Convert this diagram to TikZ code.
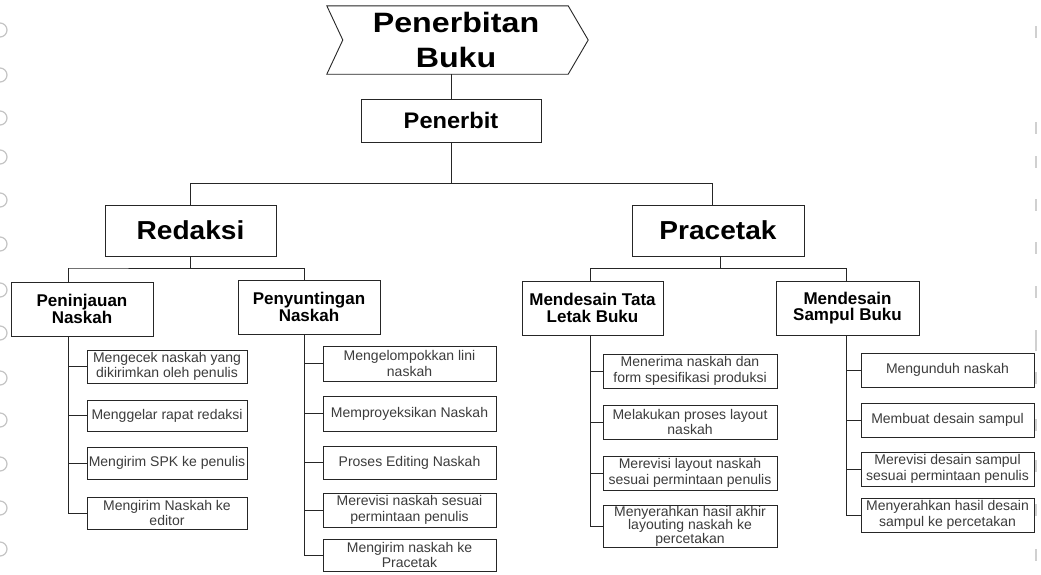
\documentclass[tikz,border=0pt]{standalone}
\usepackage{fontspec}
\setmainfont{Liberation Sans}
\newfontfamily\topbold[FakeStretch=1.15]{Liberation Sans Bold}
\newfontfamily\bigbold[FakeStretch=1.08]{Liberation Sans Bold}
\newfontfamily\midbold[FakeStretch=1.05]{Liberation Sans Bold}
\newfontfamily\subbold{Liberation Sans Bold}
\usetikzlibrary{calc}
\definecolor{linec}{HTML}{262626}
\definecolor{leaftext}{HTML}{3C3C3C}
\definecolor{scan}{HTML}{C4C4C4}
\tikzset{
  lbl/.style={draw=linec, line width=0.9pt, fill=white, inner sep=0pt, align=center},
  titlebox/.style={inner sep=0pt, align=center, font={\topbold\fontsize{28}{35}\selectfont}},
  rootbox/.style={lbl, font={\midbold\fontsize{22.5}{26}\selectfont}},
  headbox/.style={lbl, font={\bigbold\fontsize{26}{30}\selectfont}},
  subbox/.style={lbl, text=black, font={\subbold\fontsize{17}{16.5}\selectfont}},
  leafbox/.style={lbl, text=leaftext, font={\fontsize{14}{15.5}\selectfont}},
  conn/.style={draw=linec, line width=0.9pt},
  hole/.style={draw=scan, line width=1.2pt},
  scanmark/.style={draw=scan!80, line width=1.5pt},
}
\begin{document}
\begin{tikzpicture}[x=1pt,y=-1pt]
\useasboundingbox[fill=white] (0,0) rectangle (1041,574);
\begin{scope}
\clip (0,0) rectangle (1041,574);
% binder marks of the scanned page
\foreach \y in {30,75,118,157,200,244,290,333,378,420,464,508,549}
  \draw[hole] (0,\y) circle[radius=7];
\foreach \y in {32,128,162,205,248,292,336,345,378,425,466,510,555}
  \draw[scanmark] (1036,\y-6) -- (1036,\y+6);
\end{scope}

% title chevron
\node[inner sep=0pt, minimum width=241, minimum height=68] (top) at (447.5,40) {};
\draw[conn, fill=white] (top.north west) -- (top.north east) -- ($(top.east)+(20,0)$) -- (top.south east)
  -- (top.south west) -- ($(top.west)+(16,0)$) -- cycle;
\node[titlebox] (title) at (456,40) {Penerbitan\\Buku};

% root and heads
\node[rootbox, minimum width=180, minimum height=43] (penerbit) at (451,120.5) {Penerbit};
\node[headbox, minimum width=171, minimum height=51] (redaksi) at (190.5,230.5) {Redaksi};
\node[headbox, minimum width=172, minimum height=51] (pracetak) at (718,230.5) {Pracetak};

% sub heads
\node[subbox, minimum width=142, minimum height=54] (tinjau) at (82,309) {Peninjauan\\Naskah};
\node[subbox, minimum width=142, minimum height=54] (sunting) at (309,307) {Penyuntingan\\Naskah};
\node[subbox, minimum width=141, minimum height=54] (tata) at (592.5,308) {Mendesain Tata\\Letak Buku};
\node[subbox, minimum width=143, minimum height=54] (sampul) at (847.5,308) {Mendesain\\Sampul Buku};

% column coordinates of the connector trunks
\coordinate (kA) at (68,268);
\coordinate (kB) at (304,268);
\coordinate (kC) at (590,268);
\coordinate (kD) at (846,268);
\coordinate (kR) at (712,183);

% leaves: Peninjauan
\node[leafbox, minimum width=160, minimum height=33] (a1) at (167,366.5) {Mengecek naskah yang\\dikirimkan oleh penulis};
\node[leafbox, minimum width=160, minimum height=31] (a2) at (167,415.5) {Menggelar rapat redaksi};
\node[leafbox, minimum width=160, minimum height=32] (a3) at (167,463) {Mengirim SPK ke penulis};
\node[leafbox, minimum width=160, minimum height=32] (a4) at (167,513) {Mengirim Naskah ke\\editor};

% leaves: Penyuntingan
\node[leafbox, minimum width=173, minimum height=35] (b1) at (409.5,363.5) {Mengelompokkan lini\\naskah};
\node[leafbox, minimum width=173, minimum height=35] (b2) at (409.5,413.5) {Memproyeksikan Naskah};
\node[leafbox, minimum width=173, minimum height=33] (b3) at (409.5,462.5) {Proses Editing Naskah};
\node[leafbox, minimum width=173, minimum height=34] (b4) at (409.5,510) {Merevisi naskah sesuai\\permintaan penulis};
\node[leafbox, minimum width=173, minimum height=32] (b5) at (409.5,555) {Mengirim naskah ke\\Pracetak};

% leaves: Tata letak
\node[leafbox, minimum width=174, minimum height=34] (c1) at (690,371) {Menerima naskah dan\\form spesifikasi produksi};
\node[leafbox, minimum width=174, minimum height=34] (c2) at (690,422) {Melakukan proses layout\\naskah};
\node[leafbox, minimum width=174, minimum height=34] (c3) at (690,473) {Merevisi layout naskah\\sesuai permintaan penulis};
\node[leafbox, minimum width=174, minimum height=42, font={\fontsize{14}{13.5}\selectfont}] (c4) at (690,526) {Menyerahkan hasil akhir\\layouting naskah ke\\percetakan};

% leaves: Sampul
\node[leafbox, minimum width=173, minimum height=34] (d1) at (947.5,370) {Mengunduh naskah};
\node[leafbox, minimum width=173, minimum height=34] (d2) at (947.5,420) {Membuat desain sampul};
\node[leafbox, minimum width=173, minimum height=34] (d3) at (947.5,469) {Merevisi desain sampul\\sesuai permintaan penulis};
\node[leafbox, minimum width=173, minimum height=34] (d4) at (947.5,515) {Menyerahkan hasil desain\\sampul ke percetakan};

% connectors: top levels
\draw[conn] (penerbit.north) -- (penerbit.north |- top.south);
\draw[conn] (penerbit.south) -- (penerbit.south |- kR) -| (redaksi.north);
\draw[conn] (penerbit.south |- kR) -- (kR) -- (kR |- pracetak.north);
\draw[conn] (redaksi.south) -- (redaksi.south |- kA) -- (kA) -- (kB) -- (kB |- sunting.north);
\draw[conn] (kA) -- (kA |- tinjau.north);
\draw[conn] ($(pracetak.south)+(2,0)$) -- ($(pracetak.south |- kC)+(2,0)$);
\draw[conn] (kC) -- (kD) -- (kD |- sampul.north);
\draw[conn] (kC) -- (kC |- tata.north);

% connectors: leaves
\draw[conn] (kA |- tinjau.south) |- (a4.west);
\foreach \n in {a1,a2,a3} \draw[conn] (kA |- \n.west) -- (\n.west);
\draw[conn] (kB |- sunting.south) |- (b5.west);
\foreach \n in {b1,b2,b3,b4} \draw[conn] (kB |- \n.west) -- (\n.west);
\draw[conn] (kC |- tata.south) |- (c4.west);
\foreach \n in {c1,c2,c3} \draw[conn] (kC |- \n.west) -- (\n.west);
\draw[conn] (kD |- sampul.south) |- (d4.west);
\foreach \n in {d1,d2,d3} \draw[conn] (kD |- \n.west) -- (\n.west);
\end{tikzpicture}
\end{document}
